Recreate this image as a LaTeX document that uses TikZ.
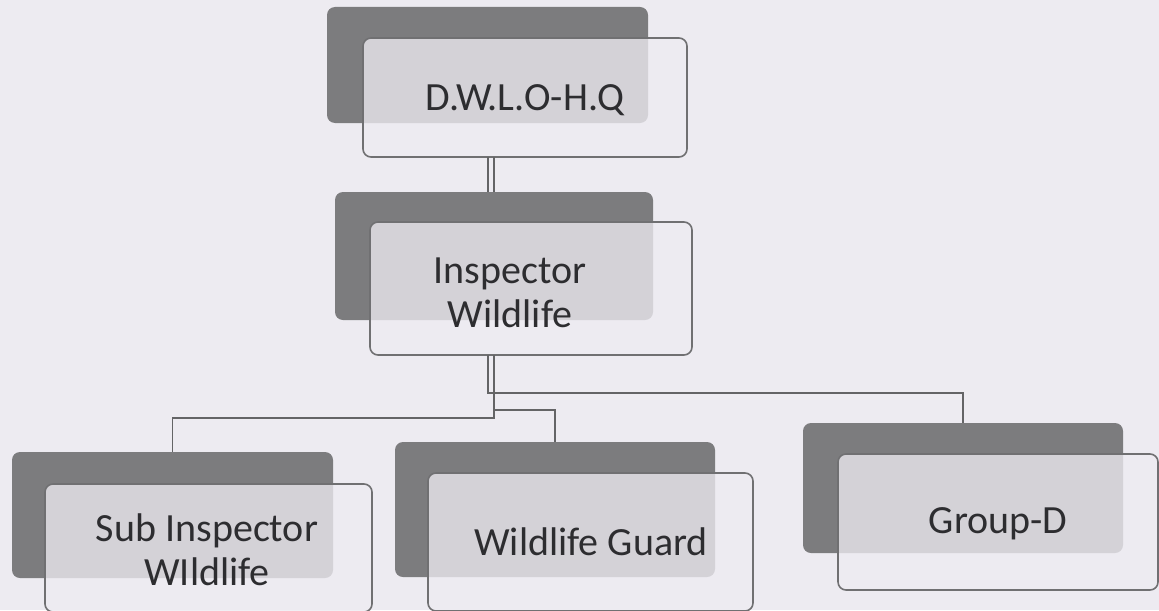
\documentclass[tikz,border=0pt]{standalone}
\usepackage{fontspec}
\setmainfont{Carlito}
\usetikzlibrary{calc}

\definecolor{paper}{RGB}{237,235,241}
\definecolor{shadowgrey}{RGB}{124,124,126}
\definecolor{rimgrey}{RGB}{112,112,114}
\definecolor{linkgrey}{RGB}{100,100,102}
\definecolor{inkgrey}{RGB}{45,45,48}

\tikzset{
	back/.style={rectangle, rounded corners=4pt, fill=shadowgrey, inner sep=0pt, outer sep=0pt},
	card/.style={rectangle, rounded corners=4pt, draw=rimgrey, line width=0.8pt,
		fill=paper, fill opacity=0.78, inner sep=0pt, outer sep=0pt},
	caption/.style={text=inkgrey, align=center, inner sep=0pt,
		font=\fontsize{20pt}{22pt}\selectfont},
	link/.style={draw=linkgrey, line width=0.8pt}
}

\begin{document}
\begin{tikzpicture}[x=0.5pt, y=-0.5pt]
		\clip (0,0) rectangle (1159,610);
		\fill[paper] (0,0) rectangle (1159,610);

		% top box
		\node[back, minimum width=160.5pt, minimum height=58pt]   (hqb)    at (487.5,65)  {};
		\node[card, minimum width=162pt,   minimum height=59.5pt] (hq)     at (525,97.5)  {};
		\node[caption] (hqtext) at (525,100) {D.W.L.O-H.Q};

		% middle box
		\node[back, minimum width=159pt, minimum height=64pt]     (inspb)  at (494,256)   {};
		\node[card, minimum width=161pt, minimum height=66.5pt]   (insp)   at (531,288.5) {};
		\node[caption] (insptext) at (510,293) {Inspector\\Wildlife};

		% bottom row
		\node[back, minimum width=160.5pt, minimum height=63pt]   (subb)   at (172.5,515) {};
		\node[card, minimum width=163.5pt, minimum height=64pt]   (sub)    at (208.5,548) {};
		\node[caption] (subtext) at (207,550) {Sub Inspector\\WIldlife};

		\node[back, minimum width=160pt, minimum height=67.5pt]   (guardb) at (555,509.5) {};
		\node[card, minimum width=162.5pt, minimum height=69pt]   (guard)  at (590.5,542) {};
		\node[caption] (guardtext) at (591,542) {Wildlife Guard};

		\node[back, minimum width=160pt, minimum height=65pt]     (groupb) at (963,488)   {};
		\node[card, minimum width=160pt, minimum height=68pt]     (group)  at (998,522)   {};
		\node[caption] (grouptext) at (998,524) {Group-D};

		% connectors
		\draw[link] (hq.south -| 488,0) -- (inspb.north -| 488,0);
		\draw[link] (hq.south -| 494,0) -- (inspb.north -| 494,0);

		\coordinate (fork) at (494,410);
		\draw[link] (insp.south -| 488,0) |- (groupb.north |- 0,393) -- (groupb.north);
		\draw[link] (insp.south -| 494,0) |- (subb.north |- 0,418) -- (subb.north);
		\draw[link] (fork) -| (guardb.north);

	\end{tikzpicture}
\end{document}
